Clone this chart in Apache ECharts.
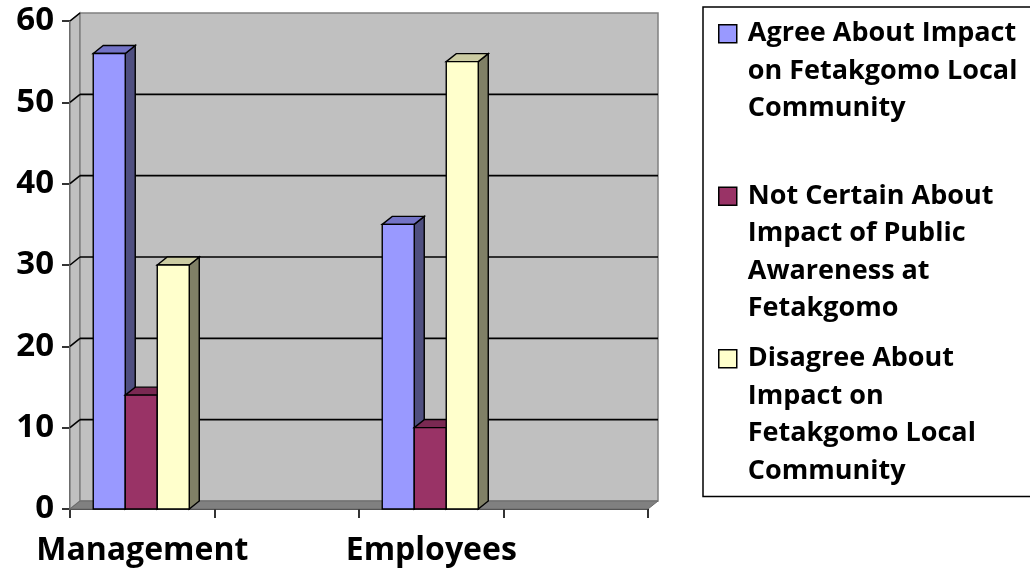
<!DOCTYPE html>
<html>
<head>
<meta charset="utf-8">
<script src="https://cdn.jsdelivr.net/npm/echarts@6/dist/echarts.min.js"></script>
<style>
html,body{margin:0;padding:0;background:#fff;}
#c{width:1030px;height:577px;}
</style>
</head>
<body>
<div id="c"></div>
<script>
// ---- data ----
var xCategories = ['Management', '', 'Employees', ''];
var groups = ['Management', 'Employees'];
var seriesNames = [
  'Agree About Impact on Fetakgomo Local Community',
  'Not Certain About Impact of Public Awareness at Fetakgomo',
  'Disagree About Impact on Fetakgomo Local Community'
];
var legendLines = [
  ['Agree About Impact', 'on Fetakgomo Local', 'Community', ' '],
  ['Not Certain About', 'Impact of Public', 'Awareness at', 'Fetakgomo'],
  ['Disagree About', 'Impact on', 'Fetakgomo Local', 'Community']
];
var agree = [56, 35];
var notCertain = [14, 10];
var disagree = [30, 55];
var yTicks = [0, 10, 20, 30, 40, 50, 60];

// ---- styles ----
var FONT = '"Open Sans", "DejaVu Sans", sans-serif';
var faces = [
  { front: '#9999FF', side: '#4F4F80', top: '#7373C6' },
  { front: '#993366', side: '#4D1A33', top: '#7A2952' },
  { front: '#FFFFCC', side: '#808066', top: '#CCCCA3' }
];
var DX = 10, DY = -8;
var values = [agree, notCertain, disagree];

function barRender(s) {
  return function (params, api) {
    var ci = api.value(0), v = api.value(1);
    var base = api.coord([ci, 0]);
    var top = api.coord([ci, v]);
    var band = api.size([1, 0])[0];
    var bw = band * 0.2215;
    var left = base[0] - 1.5 * bw + s * bw - 1;
    var right = left + bw;
    var y0 = base[1], y1 = top[1];
    var lw = 1.4;
    return {
      type: 'group',
      children: [
        { type: 'polygon', shape: { points: [[right, y1], [right + DX, y1 + DY], [right + DX, y0 + DY], [right, y0]] },
          style: { fill: faces[s].side, stroke: '#000', lineWidth: lw } },
        { type: 'polygon', shape: { points: [[left, y1], [left + DX, y1 + DY], [right + DX, y1 + DY], [right, y1]] },
          style: { fill: faces[s].top, stroke: '#000', lineWidth: lw } },
        { type: 'rect', shape: { x: left, y: y1, width: bw, height: y0 - y1 },
          style: { fill: faces[s].front, stroke: '#000', lineWidth: lw } }
      ]
    };
  };
}

function frameRender(params, api) {
  var cs = params.coordSys;
  var x0 = cs.x, x1 = cs.x + cs.width;
  var v = api.value(0);
  var y = api.coord([0, v])[1];
  var yb = cs.y + cs.height, yt = cs.y;
  var children = [];
  if (params.dataIndex === 0) {
    children.push(
      { type: 'polygon', z2: 1, shape: { points: [[x0, yb], [x0, yt], [x0 + DX, yt + DY], [x0 + DX, yb + DY]] },
        style: { fill: '#C0C0C0', stroke: '#808080', lineWidth: 1.5 } },
      { type: 'rect', z2: 1, shape: { x: x0 + DX, y: yt + DY, width: cs.width, height: cs.height } ,
        style: { fill: '#C0C0C0', stroke: '#808080', lineWidth: 1.5 } },
      { type: 'polygon', z2: 2, shape: { points: [[x0, yb], [x1, yb], [x1 + DX, yb + DY], [x0 + DX, yb + DY]] },
        style: { fill: '#808080', stroke: '#6a6a6a', lineWidth: 1 } }
    );
  } else {
    if (v < 60) {
      children.push({ type: 'line', z2: 3, shape: { x1: x0 + DX, y1: y + DY, x2: x1 + DX, y2: y + DY },
        style: { stroke: '#000', lineWidth: 1.6 } });
    }
    children.push({ type: 'line', z2: 3, shape: { x1: x0, y1: y, x2: x0 + DX, y2: y + DY },
      style: { stroke: '#000', lineWidth: 1.6 } });
  }
  return { type: 'group', children: children };
}

var series = [{
  type: 'custom',
  name: '__frame',
  silent: true,
  z: 1,
  renderItem: frameRender,
  data: yTicks.map(function (t) { return [t]; }),
  encode: { y: 0 }
}];
for (var s = 0; s < 3; s++) {
  series.push({
    type: 'custom',
    name: seriesNames[s],
    z: 2,
    color: faces[s].front,
    renderItem: barRender(s),
    encode: { x: 0, y: 1 },
    data: groups.map(function (g, i) { return [xCategories.indexOf(g), values[s][i]]; })
  });
}

var iconPath = 'path://M0,0 M0,10 L18,10 L18,28 L0,28 Z M24,150';

var chart = echarts.init(document.getElementById('c'), null, { renderer: 'canvas' });
chart.setOption({
  animation: false,
  backgroundColor: '#fff',
  grid: { left: 70, right: 382, top: 21, bottom: 68 },
  xAxis: {
    type: 'category',
    data: xCategories,
    boundaryGap: true,
    axisLine: { lineStyle: { color: '#000', width: 1.6 } },
    axisTick: { show: true, length: 9, lineStyle: { color: '#000', width: 1.6 }, interval: 0 },
    axisLabel: { interval: 0, color: '#000', fontFamily: FONT, fontWeight: 'bold', fontSize: 32, margin: 26 },
    splitLine: { show: false }
  },
  yAxis: {
    type: 'value',
    min: 0, max: 60, interval: 10,
    axisLine: { show: true, lineStyle: { color: '#000', width: 1.6 } },
    axisTick: { show: true, length: 8, lineStyle: { color: '#000', width: 1.6 } },
    axisLabel: { color: '#000', fontFamily: FONT, fontWeight: 'bold', fontSize: 33, margin: 16, padding: [6, 0, 0, 0] },
    splitLine: { show: false }
  },
  legend: {
    orient: 'vertical',
    left: 703, top: 7,
    padding: [7, 6, 6, 15],
    itemGap: 11,
    itemWidth: 24, itemHeight: 150,
    icon: iconPath,
    borderColor: '#000', borderWidth: 1.5,
    data: seriesNames.map(function (n, i) {
      return { name: n, itemStyle: { color: faces[i].front, borderColor: '#000', borderWidth: 1.5 } };
    }),
    formatter: function (name) { return legendLines[seriesNames.indexOf(name)].join('\n'); },
    textStyle: { color: '#000', fontFamily: FONT, fontWeight: 'bold', fontSize: 27, lineHeight: 37.5, width: 277 },
    selectedMode: false
  },
  tooltip: { show: false },
  series: series
});
</script>
</body>
</html>
